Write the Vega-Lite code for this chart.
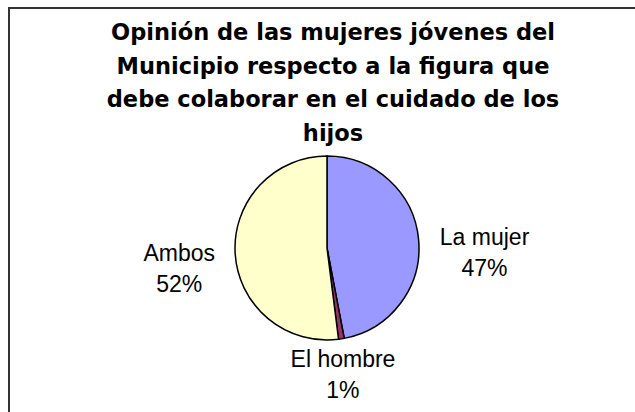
{
  "$schema": "https://vega.github.io/schema/vega-lite/v6.json",
  "autosize": "none",
  "padding": {"left": 9, "top": 8, "right": 0, "bottom": 0},
  "width": 636,
  "height": 480,
  "background": "white",
  "view": {"stroke": "#333333", "strokeWidth": 2},
  "title": {
    "text": ["Opinión de las mujeres jóvenes del", "Municipio respecto a la figura que", "debe colaborar en el cuidado de los", "hijos"],
    "font": "DejaVu Sans",
    "fontSize": 22.5,
    "fontWeight": "bold",
    "color": "#000000",
    "lineHeight": 33.5,
    "anchor": "middle",
    "frame": "group",
    "offset": -137,
    "dx": 6
  },
  "data": {
    "values": [
      {"categoria": "La mujer", "valor": 47, "orden": 1},
      {"categoria": "El hombre", "valor": 1, "orden": 2},
      {"categoria": "Ambos", "valor": 52, "orden": 3}
    ]
  },
  "transform": [
    {"calculate": "datum.categoria + '\\n' + datum.valor + '%'", "as": "etiqueta"}
  ],
  "encoding": {
    "theta": {"field": "valor", "type": "quantitative", "stack": true},
    "order": {"field": "orden", "type": "quantitative"}
  },
  "layer": [
    {
      "mark": {"type": "arc", "outerRadius": 92, "stroke": "#000000", "strokeWidth": 1.5},
      "encoding": {
        "color": {
          "field": "categoria",
          "type": "nominal",
          "scale": {"domain": ["La mujer", "El hombre", "Ambos"], "range": ["#9999FF", "#993366", "#FFFFCC"]},
          "legend": null
        }
      }
    },
    {
      "mark": {
        "type": "text",
        "radius": 102,
        "font": "Liberation Sans",
        "fontSize": 23,
        "lineBreak": "\n",
        "lineHeight": 31,
        "color": "#000000",
        "align": "center",
        "dx": {"expr": "(datum.valor_start + datum.valor_end) / 2 < 40 ? 56 : (datum.valor_start + datum.valor_end) / 2 > 60 ? -46 : 0"},
        "baseline": {"expr": "(datum.valor_start + datum.valor_end) / 2 >= 40 && (datum.valor_start + datum.valor_end) / 2 <= 60 ? 'top' : 'middle'"}
      },
      "encoding": {
        "text": {"field": "etiqueta", "type": "nominal"}
      }
    }
  ]
}
